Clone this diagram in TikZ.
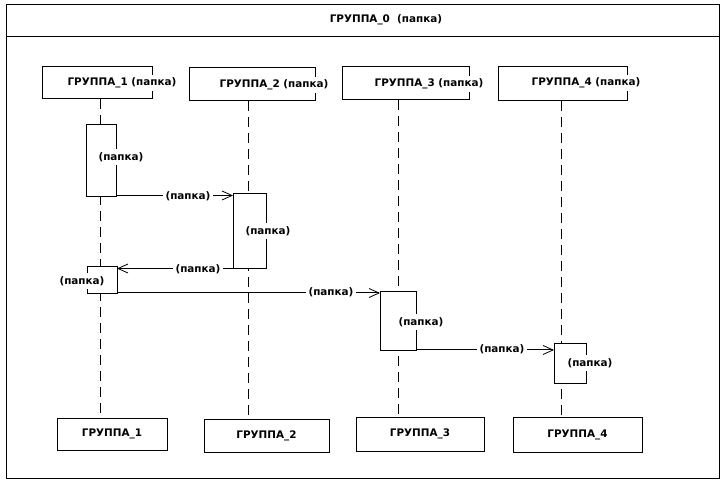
\documentclass[tikz,border=0pt]{standalone}
\usepackage{fontspec}
\setmainfont{DejaVu Sans}
\usetikzlibrary{arrows.meta}
\tikzset{
  every node/.style={font=\fontsize{10.4}{12}\selectfont\bfseries},
  frame/.style={draw=black,line width=1pt},
  head/.style={draw=black,line width=1pt,fill=white},
  lbl/.style={fill=white,inner sep=3pt},
  life/.style={draw=black,line width=1pt,dash pattern=on 10pt off 6pt},
  act/.style={draw=black,line width=1pt,fill=white},
  msg/.style={draw=black,line width=1pt,-{Straight Barb[length=10pt,width=9pt,line width=0.8pt]}},
}
\begin{document}
\begin{tikzpicture}[x=1pt,y=-1pt]
\useasboundingbox (0,0) rectangle (726,486);
% outer frame
\draw[frame] (6,5) rectangle (719,478);
\draw[frame] (6,37) -- (719,37);
\node (title) at (386,20) {ГРУППА\_0 \ (папка)};

% head boxes
\draw[head] (42,67) rectangle (152,99);
\node[lbl] (h1) at (122,83) {ГРУППА\_1 (папка)};
\draw[head] (189,68) rectangle (315,101);
\node[lbl] (h2) at (274,85) {ГРУППА\_2 (папка)};
\draw[head] (342,67) rectangle (469,100);
\node[lbl] (h3) at (429,84) {ГРУППА\_3 (папка)};
\draw[head] (498,67) rectangle (627,101);
\node[lbl] (h4) at (586,83) {ГРУППА\_4 (папка)};

% bottom boxes
\node[draw,line width=1pt,minimum width=110pt,minimum height=32pt,inner sep=0pt] (b1) at (112,434) {ГРУППА\_1};
\node[draw,line width=1pt,minimum width=125pt,minimum height=33pt,inner sep=0pt] (b2) at (266.5,435.5) {ГРУППА\_2};
\node[draw,line width=1pt,minimum width=128pt,minimum height=34pt,inner sep=0pt] (b3) at (420,434) {ГРУППА\_3};
\node[draw,line width=1pt,minimum width=129pt,minimum height=35pt,inner sep=0pt] (b4) at (577.5,434.5) {ГРУППА\_4};

% lifelines
\coordinate (t1) at (100,99);  \coordinate (e1) at (100,418);
\coordinate (t2) at (248,101); \coordinate (e2) at (248,419);
\coordinate (t3) at (398,100); \coordinate (e3) at (398,417);
\coordinate (t4) at (561,101); \coordinate (e4) at (561,417);
\draw[life] (t1) -- (e1);
\draw[life] (t2) -- (e2);
\draw[life] (t3) -- (e3);
\draw[life] (t4) -- (e4);

% activations
\draw[act] (86,125) rectangle (116,197);
\node[lbl] (a1) at (121,157) {(папка)};
\draw[act] (233,194) rectangle (266,269);
\node[lbl] (a2) at (268,231) {(папка)};
\draw[act] (87,267) rectangle (117,294);
\node[lbl] (a3) at (82,281) {(папка)};
\draw[act] (380,292) rectangle (416,351);
\node[lbl] (a4) at (421,322) {(папка)};
\draw[act] (554,344) rectangle (586,384);
\node[lbl] (a5) at (590,363) {(папка)};

% messages
\coordinate (m1s) at (116,195.5); \coordinate (m1e) at (233,195.5);
\draw[msg] (m1s) -- (m1e);
\node[lbl] (l1) at (188,196) {(папка)};
\coordinate (m2s) at (233,268.5); \coordinate (m2e) at (117,268.5);
\draw[msg] (m2s) -- (m2e);
\node[lbl] (l2) at (198,269) {(папка)};
\coordinate (m3s) at (117,293); \coordinate (m3e) at (380,293);
\draw[msg] (m3s) -- (m3e);
\node[lbl] (l3) at (331,292) {(папка)};
\coordinate (m4s) at (416,350); \coordinate (m4e) at (554,350);
\draw[msg] (m4s) -- (m4e);
\node[lbl] (l4) at (502,349) {(папка)};
\end{tikzpicture}
\end{document}
